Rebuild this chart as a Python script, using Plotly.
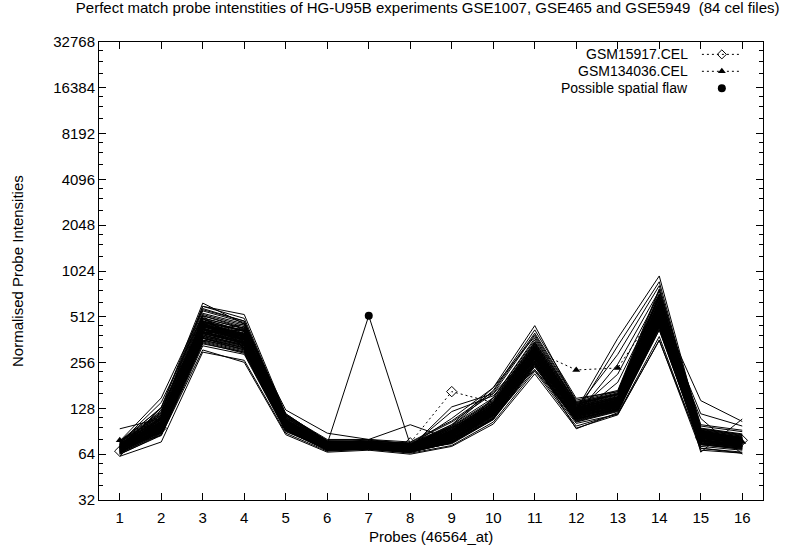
import math
import plotly.graph_objects as go

# Probe positions along the x axis (probe set 46564_at)
probes = list(range(1, 17))

# Log2 y-axis ticks
y_ticks = [32, 64, 128, 256, 512, 1024, 2048, 4096, 8192, 16384, 32768]
y_tick_text = [str(v) for v in y_ticks]
y_minor = [v * f for v in y_ticks[:-1] for f in (1.25, 1.5, 1.75)]

# Normalised perfect-match intensities, one row per cel file (16 probes each)
cel_intensities = [
    [70, 98, 430, 360, 100, 72, 73, 70, 84, 124, 290, 120, 138, 540, 83, 76],
    [66, 92, 380, 330, 96, 70, 71, 68, 80, 116, 260, 112, 128, 470, 78, 72],
    [74, 112, 500, 430, 108, 76, 76, 73, 94, 138, 330, 132, 152, 640, 90, 82],
    [68, 96, 410, 350, 98, 71, 72, 69, 82, 120, 280, 118, 134, 510, 80, 74],
    [72, 104, 460, 380, 104, 74, 75, 71, 88, 130, 305, 126, 144, 580, 86, 79],
    [64, 86, 340, 300, 92, 68, 70, 66, 77, 110, 245, 106, 124, 440, 75, 70],
    [77, 120, 540, 460, 112, 78, 78, 75, 98, 146, 350, 138, 158, 680, 93, 85],
    [69, 94, 395, 345, 97, 71, 72, 68, 81, 118, 270, 114, 130, 495, 79, 73],
    [71, 100, 445, 375, 102, 73, 74, 70, 86, 127, 298, 122, 140, 555, 84, 77],
    [67, 90, 370, 320, 94, 69, 71, 67, 79, 114, 255, 110, 126, 460, 77, 71],
    [75, 108, 480, 410, 106, 75, 76, 72, 91, 134, 320, 129, 148, 610, 88, 80],
    [70, 99, 420, 390, 101, 72, 73, 69, 85, 122, 285, 119, 136, 530, 82, 75],
    [73, 102, 470, 340, 99, 74, 74, 71, 83, 126, 295, 121, 142, 570, 85, 78],
    [68, 106, 400, 420, 105, 72, 72, 70, 90, 132, 275, 124, 132, 500, 81, 76],
    [71, 88, 450, 365, 95, 70, 75, 69, 80, 117, 310, 113, 146, 590, 79, 74],
    [65, 97, 360, 310, 100, 73, 71, 68, 87, 128, 250, 127, 129, 450, 86, 72],
    [76, 115, 520, 440, 110, 77, 77, 74, 95, 140, 335, 134, 155, 650, 91, 83],
    [69, 93, 390, 335, 96, 70, 72, 67, 79, 115, 265, 111, 131, 485, 78, 73],
    [72, 103, 455, 385, 103, 74, 74, 71, 89, 131, 300, 125, 143, 565, 87, 78],
    [67, 91, 375, 325, 95, 69, 70, 67, 78, 113, 258, 109, 127, 465, 76, 71],
    [74, 110, 490, 415, 107, 76, 75, 72, 92, 136, 325, 130, 150, 620, 89, 81],
    [70, 97, 425, 355, 99, 72, 73, 70, 84, 123, 288, 117, 137, 525, 82, 75],
    [66, 89, 355, 305, 93, 68, 70, 66, 76, 111, 248, 107, 125, 445, 74, 69],
    [78, 122, 560, 470, 114, 79, 79, 75, 100, 150, 360, 140, 162, 700, 95, 87],
    [71, 101, 440, 370, 101, 73, 73, 70, 86, 126, 294, 121, 139, 545, 84, 77],
    [68, 95, 405, 345, 97, 71, 72, 69, 82, 119, 278, 115, 133, 505, 80, 74],
    [73, 105, 465, 395, 104, 75, 75, 71, 89, 129, 308, 127, 145, 585, 86, 79],
    [65, 87, 345, 295, 91, 68, 69, 66, 77, 109, 242, 105, 123, 430, 75, 70],
    [75, 113, 505, 425, 109, 76, 77, 73, 93, 139, 330, 133, 153, 630, 90, 82],
    [69, 94, 400, 340, 98, 71, 72, 68, 81, 118, 272, 116, 132, 498, 79, 73],
    [72, 125, 480, 380, 98, 70, 73, 69, 90, 140, 260, 118, 135, 480, 82, 76],
    [67, 110, 350, 440, 112, 75, 72, 70, 78, 115, 340, 128, 150, 650, 88, 80],
    [70, 90, 520, 320, 94, 72, 76, 72, 96, 128, 230, 110, 125, 420, 76, 72],
    [74, 100, 400, 460, 104, 68, 70, 67, 82, 150, 370, 136, 160, 720, 94, 86],
    [68, 130, 460, 360, 118, 78, 74, 71, 88, 122, 290, 122, 140, 560, 80, 74],
    [71, 85, 330, 290, 90, 70, 71, 68, 75, 108, 280, 114, 130, 460, 78, 72],
    [76, 118, 580, 480, 115, 77, 78, 76, 104, 160, 390, 142, 165, 760, 98, 90],
    [65, 95, 370, 310, 96, 69, 70, 66, 80, 118, 250, 108, 128, 440, 74, 70],
    [72, 108, 440, 400, 100, 74, 75, 72, 86, 126, 300, 124, 142, 590, 85, 78],
    [69, 100, 500, 350, 102, 71, 73, 69, 92, 134, 320, 126, 146, 600, 86, 79],
    [73, 116, 420, 380, 108, 75, 76, 73, 84, 120, 275, 120, 136, 510, 83, 77],
    [66, 92, 390, 330, 95, 70, 71, 67, 83, 124, 285, 117, 134, 530, 81, 75],
    [75, 104, 470, 420, 103, 73, 74, 70, 87, 130, 310, 128, 147, 610, 87, 80],
    [70, 96, 410, 340, 97, 72, 72, 69, 81, 117, 268, 113, 131, 490, 79, 74],
    [78, 128, 600, 500, 116, 80, 80, 77, 106, 165, 400, 145, 168, 780, 100, 92],
    [67, 89, 360, 315, 93, 69, 70, 67, 78, 112, 252, 110, 127, 455, 76, 71],
    [71, 102, 450, 385, 101, 73, 74, 70, 88, 129, 303, 123, 141, 570, 85, 78],
    [74, 110, 495, 410, 106, 75, 76, 72, 91, 135, 318, 129, 149, 615, 88, 81],
    [68, 93, 385, 335, 96, 71, 71, 68, 80, 116, 262, 112, 129, 475, 78, 72],
    [72, 106, 475, 390, 102, 74, 75, 71, 89, 132, 312, 126, 144, 595, 86, 79],
    [70, 98, 430, 365, 100, 75, 520, 74, 85, 125, 290, 120, 138, 540, 83, 76],
    [94, 110, 420, 350, 100, 72, 73, 70, 84, 122, 285, 118, 136, 520, 82, 76],
    [72, 104, 450, 380, 103, 74, 80, 100, 80, 124, 292, 121, 140, 550, 84, 77],
    [62, 77, 300, 265, 88, 67, 69, 65, 73, 104, 225, 98, 118, 380, 70, 66],
    [76, 130, 630, 460, 114, 76, 76, 72, 94, 140, 340, 132, 152, 640, 90, 82],
    [74, 120, 600, 530, 118, 77, 75, 72, 92, 136, 325, 130, 150, 620, 89, 81],
    [64, 85, 310, 257, 86, 66, 68, 64, 72, 101, 216, 95, 116, 360, 68, 65],
    [72, 104, 440, 370, 102, 73, 74, 71, 88, 130, 300, 125, 370, 950, 92, 80],
    [70, 100, 420, 360, 100, 72, 73, 70, 86, 126, 290, 120, 330, 870, 88, 78],
    [73, 108, 460, 390, 104, 74, 75, 72, 90, 134, 310, 128, 290, 820, 86, 80],
    [69, 97, 410, 350, 99, 72, 72, 69, 84, 122, 280, 116, 250, 760, 84, 76],
    [71, 101, 430, 365, 101, 73, 73, 70, 87, 127, 295, 122, 215, 720, 85, 77],
    [68, 95, 400, 345, 97, 71, 72, 69, 82, 120, 275, 114, 190, 680, 83, 75],
    [72, 106, 450, 380, 104, 74, 74, 71, 88, 130, 300, 124, 142, 580, 144, 105],
    [70, 100, 420, 360, 100, 72, 73, 70, 85, 124, 288, 120, 138, 540, 118, 98],
    [73, 104, 460, 385, 103, 74, 75, 71, 89, 132, 305, 126, 144, 590, 66, 109],
    [69, 98, 410, 350, 98, 71, 72, 69, 83, 121, 280, 117, 135, 520, 110, 64],
    [74, 112, 480, 400, 106, 75, 76, 73, 100, 175, 448, 140, 160, 700, 92, 84],
    [72, 108, 470, 395, 104, 74, 75, 72, 98, 168, 420, 149, 165, 720, 90, 82],
    [67, 92, 380, 330, 95, 70, 71, 68, 80, 115, 255, 94, 120, 450, 78, 72],
    [71, 102, 440, 375, 102, 73, 74, 71, 131, 160, 310, 125, 145, 570, 86, 79],
    [70, 100, 430, 365, 100, 72, 73, 72, 122, 155, 300, 122, 141, 555, 84, 77],
    [76, 140, 520, 430, 125, 88, 80, 74, 90, 136, 320, 130, 148, 620, 89, 81],
    [66, 90, 370, 320, 94, 69, 70, 67, 77, 110, 230, 102, 117, 358, 72, 68],
    [78, 150, 570, 480, 116, 78, 77, 74, 96, 144, 350, 136, 158, 680, 94, 86],
    [65, 88, 350, 300, 92, 68, 69, 66, 76, 108, 240, 104, 122, 420, 74, 69],
    [72, 103, 455, 385, 103, 74, 74, 71, 89, 131, 302, 125, 143, 570, 86, 79],
    [77, 116, 530, 450, 111, 77, 77, 74, 97, 142, 345, 135, 157, 660, 92, 84],
    [68, 94, 400, 340, 97, 71, 72, 68, 81, 118, 270, 115, 131, 495, 79, 73],
    [74, 110, 480, 410, 107, 75, 76, 73, 110, 175, 380, 138, 158, 700, 90, 82],
    [66, 90, 370, 320, 93, 69, 70, 66, 76, 110, 250, 108, 126, 450, 70, 65],
    [71, 101, 445, 378, 101, 73, 74, 70, 87, 128, 298, 123, 141, 560, 85, 78],
]

# Highlighted arrays
gsm15917 = [67, 95, 400, 340, 100, 72, 73, 76, 165, 140, 280, 120, 140, 520, 82, 79]
gsm134036 = [79, 110, 430, 370, 102, 73, 74, 71, 88, 130, 305, 229, 236, 600, 85, 77]

# Array with a suspected spatial flaw, and the probe where it shows
flaw_row = 50
flaw_probe = 7

fig = go.Figure()

# Highlighted arrays: dotted linespoints
fig.add_trace(go.Scatter(
    x=probes, y=gsm15917, mode="lines+markers",
    line=dict(color="black", width=1, dash="2px,3px"),
    marker=dict(symbol="diamond-open", size=8, color="black", line=dict(width=1)),
))
fig.add_trace(go.Scatter(
    x=probes, y=gsm134036, mode="lines+markers",
    line=dict(color="black", width=1, dash="2px,3px"),
    marker=dict(symbol="triangle-up", size=7, color="black"),
))

# All other cel files as solid black profiles, one path with breaks
xs, ys = [], []
for row in cel_intensities:
    xs.extend(probes + [None])
    ys.extend(row + [None])
fig.add_trace(go.Scatter(
    x=xs, y=ys, mode="lines", connectgaps=False,
    line=dict(color="black", width=1),
))

# Marker on the outlying value
fig.add_trace(go.Scatter(
    x=[flaw_probe], y=[cel_intensities[flaw_row][flaw_probe - 1]], mode="markers",
    marker=dict(symbol="circle", size=8, color="black"),
))

# Key, drawn on an overlaid unit axis pair in the top-right corner
key_labels = ["GSM15917.CEL", "GSM134036.CEL", "Possible spatial flaw"]
key_rows = [0.973, 0.936, 0.899]
key_x0, key_x1, key_mid, key_text_x = 0.908, 0.968, 0.938, 0.890
fig.add_trace(go.Scatter(
    x=[key_x0, key_x1], y=[key_rows[0]] * 2, mode="lines", xaxis="x2", yaxis="y2",
    line=dict(color="black", width=1, dash="2px,3px"),
))
fig.add_trace(go.Scatter(
    x=[key_mid], y=[key_rows[0]], mode="markers", xaxis="x2", yaxis="y2",
    marker=dict(symbol="diamond-open", size=7, color="black", line=dict(width=1)),
))
fig.add_trace(go.Scatter(
    x=[key_x0, key_x1], y=[key_rows[1]] * 2, mode="lines", xaxis="x2", yaxis="y2",
    line=dict(color="black", width=1, dash="2px,3px"),
))
fig.add_trace(go.Scatter(
    x=[key_mid], y=[key_rows[1]], mode="markers", xaxis="x2", yaxis="y2",
    marker=dict(symbol="triangle-up", size=7, color="black"),
))
fig.add_trace(go.Scatter(
    x=[key_mid], y=[key_rows[2]], mode="markers", xaxis="x2", yaxis="y2",
    marker=dict(symbol="circle", size=8, color="black"),
))

annotations = [
    dict(text=lbl, x=key_text_x, y=yy, xref="paper", yref="paper",
         xanchor="right", yanchor="middle", showarrow=False, font=dict(size=14))
    for lbl, yy in zip(key_labels, key_rows)
]
annotations.append(dict(
    text="Normalised Probe Intensities", x=-0.1235, y=0.5, xref="paper", yref="paper",
    textangle=-90, xanchor="center", yanchor="middle", showarrow=False,
))
annotations.append(dict(
    text="Probes (46564_at)", x=0.5, y=-0.079, xref="paper", yref="paper",
    xanchor="center", yanchor="middle", showarrow=False,
))

axis_common = dict(
    ticks="inside", tickcolor="black", tickwidth=1, ticklen=7,
    showline=True, linecolor="black", linewidth=1, mirror="ticks",
    showgrid=False, zeroline=False,
)

fig.update_layout(
    width=792, height=548, autosize=False,
    margin=dict(l=99, r=29, t=42, b=48),
    paper_bgcolor="white", plot_bgcolor="white",
    font=dict(family="Liberation Sans, Arial, sans-serif", size=15, color="black"),
    showlegend=False,
    title=dict(
        text="Perfect match probe intenstities of HG-U95B experiments GSE1007, GSE465 and GSE5949  (84 cel files)",
        x=0.54, xref="container", xanchor="center",
        y=0.986, yref="container", yanchor="middle",
        font=dict(size=15),
    ),
    xaxis=dict(range=[0.5, 16.5], tickmode="array", tickvals=probes,
               ticklabelstandoff=4, **axis_common),
    yaxis=dict(
        type="log", range=[math.log10(32), math.log10(32768)],
        tickmode="array", tickvals=y_ticks, ticktext=y_tick_text,
        minor=dict(tickmode="array", tickvals=y_minor, ticks="inside",
                   ticklen=4, tickcolor="black", tickwidth=1, showgrid=False),
        **axis_common,
    ),
    xaxis2=dict(overlaying="x", range=[0, 1], visible=False),
    yaxis2=dict(overlaying="y", range=[0, 1], visible=False),
    annotations=annotations,
)

fig.write_html("out.html")
